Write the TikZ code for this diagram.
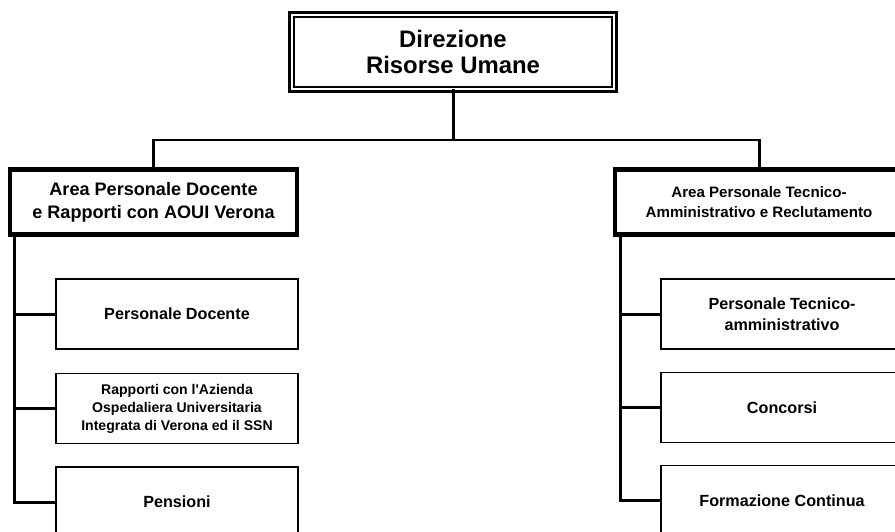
\documentclass[tikz,border=0pt]{standalone}
\usepackage{fontspec}
\setmainfont{Liberation Sans}
\usetikzlibrary{positioning, calc}

\begin{document}
\begin{tikzpicture}[x=0.02cm, y=-0.02cm,
	topbox/.style={draw, double, line width=1.4pt, double distance=1.3pt, minimum width=6.45cm, minimum height=1.49cm, align=center, outer sep=0pt, inner sep=0pt, font=\bfseries\fontsize{13.6}{15.3}\selectfont},
	areabox/.style={draw, line width=2.3pt, minimum width=5.76cm, minimum height=1.3cm, align=center, outer sep=0pt, inner sep=0pt},
	unitbox/.style={draw, line width=1.1pt, minimum width=4.84cm, minimum height=1.4cm, align=center, outer sep=0pt, inner sep=0pt, font=\bfseries\fontsize{9.2}{11.9}\selectfont},
	conn/.style={line width=1.7pt}]
	\useasboundingbox (0,0) rectangle (895,531);
	\clip (0,0) rectangle (895,531);

	\node (0) at (453, 52) [topbox] {\raisebox{-2pt}{\shortstack{Direzione\\[2pt]Risorse Umane}}};
	\node (1) at (153.5, 202) [areabox, font=\bfseries\fontsize{10.3}{13}\selectfont] {Area Personale Docente\\e Rapporti con AOUI Verona};
	\node (2) at (759, 202) [areabox, font=\bfseries\fontsize{8.6}{11.3}\selectfont] {Area Personale Tecnico-\\Amministrativo e Reclutamento};

	\node (3) at (177, 314) [unitbox] {Personale Docente};
	\node (4) at (177, 408.5) [unitbox, font=\bfseries\fontsize{8}{10.2}\selectfont] {Rapporti con l\textquotesingle Azienda\\Ospedaliera Universitaria\\Integrata di Verona ed il SSN};
	\node (5) at (177, 502) [unitbox] {Pensioni};

	\node (6) at (782, 314) [unitbox] {Personale Tecnico-\\amministrativo};
	\node (7) at (782, 407.5) [unitbox] {Concorsi};
	\node (8) at (782, 500.5) [unitbox] {Formazione Continua};

	\coordinate (bus) at (453, 140);
	\draw[conn] (0.south) -- (bus);
	\draw[conn] (1.north) |- (bus) -| (2.north);

	\draw[conn] ($(1.south west)+(5,0)$) |- (3.west);
	\draw[conn] ($(1.south west)+(5,0)$) |- (4.west);
	\draw[conn] ($(1.south west)+(5,0)$) |- (5.west);
	\draw[conn] ($(2.south west)+(5,0)$) |- (6.west);
	\draw[conn] ($(2.south west)+(5,0)$) |- (7.west);
	\draw[conn] ($(2.south west)+(5,0)$) |- (8.west);
\end{tikzpicture}
\end{document}
